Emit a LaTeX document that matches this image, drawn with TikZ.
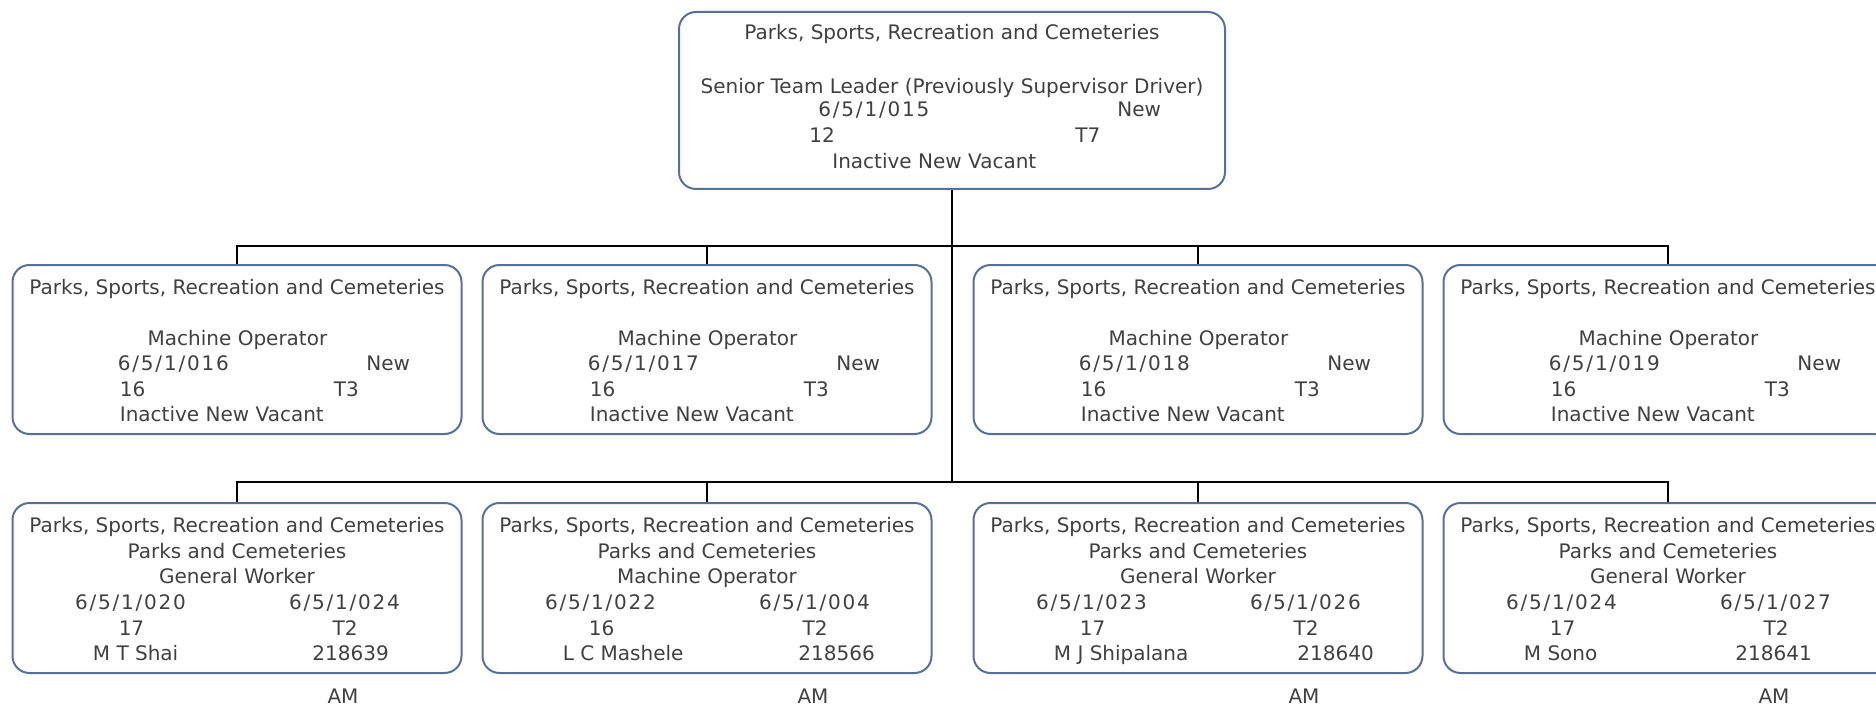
\documentclass[tikz,border=0pt]{standalone}
\usepackage{fontspec}
\setmainfont{DejaVu Sans}
\newfontfamily\idfont{DejaVu Sans}[LetterSpace=9]
\definecolor{boxc}{RGB}{88,112,152}
\definecolor{txtc}{RGB}{64,64,64}
\tikzset{
  box/.style={draw=boxc, line width=1pt, rounded corners=8.5pt, minimum width=224.5pt, minimum height=84.5pt, inner sep=0pt},
  txt/.style={text=txtc, inner sep=0pt, font=\fontsize{10}{12}\selectfont},
  idtxt/.style={txt, font=\fontsize{10}{12}\idfont},
  link/.style={draw=black, line width=1pt}
}
\newcommand\MidUnit[3]{%
  \node[box] (#1) at (#2,349.5) {};
  \node[txt,anchor=base] (#1-a) at (#2,294) {Parks, Sports, Recreation and Cemeteries};
  \node[txt,anchor=base] (#1-b) at ({#2+0.5},345) {Machine Operator};
  \node[idtxt,anchor=base west] (#1-c) at ({#2-119.5},370) {#3};
  \node[txt,anchor=base east] (#1-d) at ({#2+173.5},370) {New};
  \node[txt,anchor=base west] (#1-e) at ({#2-117.5},396) {16};
  \node[txt,anchor=base west] (#1-f) at ({#2+96.5},396) {T3};
  \node[txt,anchor=base west] (#1-g) at ({#2-117.5},421) {Inactive New Vacant};
}
\newcommand\BotUnit[9]{%
  \node[box, minimum height=85pt] (#1) at (#2,588) {};
  \node[txt,anchor=base] (#1-a) at (#2,532) {Parks, Sports, Recreation and Cemeteries};
  \node[txt,anchor=base] (#1-b) at (#2,558) {Parks and Cemeteries};
  \node[txt,anchor=base] (#1-c) at (#2,583) {#3};
  \node[idtxt,anchor=base] (#1-d) at ({#2-106.5},609) {#4};
  \node[idtxt,anchor=base] (#1-e) at ({#2+107.5},609) {#5};
  \node[txt,anchor=base] (#1-f) at ({#2-105.5},635) {#6};
  \node[txt,anchor=base] (#1-g) at ({#2+108},635) {T2};
  \node[txt,anchor=base west] (#1-h) at ({#2-144.5},660) {#7};
  \node[txt,anchor=base west] (#1-i) at ({#2+#9},660) {#8};
  \node[txt,anchor=base] (#1-am) at ({#2+106},703) {AM};
}
\begin{document}
\begin{tikzpicture}[x=0.5pt,y=-0.5pt]
\useasboundingbox (0,0) rectangle (1876,706);
% top
\node[box, minimum width=273pt, minimum height=88.5pt] (top) at (952,100.5) {};
\node[txt,anchor=base] (top-a) at (952,40) {Parks, Sports, Recreation and Cemeteries};
\node[txt,anchor=base] (top-b) at (952,94) {Senior Team Leader (Previously Supervisor Driver)};
\node[idtxt,anchor=base west] (top-c) at (818,117) {6/5/1/015};
\node[txt,anchor=base west] (top-d) at (1117,117) {New};
\node[txt,anchor=base west] (top-e) at (809,143) {12};
\node[txt,anchor=base west] (top-f) at (1075,143) {T7};
\node[txt,anchor=base west] (top-g) at (832,169) {Inactive New Vacant};
% middle row
\MidUnit{m1}{237}{6/5/1/016}
\MidUnit{m2}{707}{6/5/1/017}
\MidUnit{m3}{1198}{6/5/1/018}
\MidUnit{m4}{1668}{6/5/1/019}
% bottom row
\BotUnit{b1}{237}{General Worker}{6/5/1/020}{6/5/1/024}{17}{M T Shai}{218639}{75}
\BotUnit{b2}{707}{Machine Operator}{6/5/1/022}{6/5/1/004}{16}{L C Mashele}{218566}{91}
\BotUnit{b3}{1198}{General Worker}{6/5/1/023}{6/5/1/026}{17}{M J Shipalana}{218640}{99}
\BotUnit{b4}{1668}{General Worker}{6/5/1/024}{6/5/1/027}{17}{M Sono}{218641}{67}
% connectors
\coordinate (j1) at (952,246);
\coordinate (j2) at (952,482);
\draw[link] (top.south) -- (j1);
\foreach \n in {m1,m2,m3,m4} \draw[link] (j1) -| (\n.north);
\draw[link] (j1) -- (j2);
\foreach \n in {b1,b2,b3,b4} \draw[link] (j2) -| (\n.north);
\end{tikzpicture}
\end{document}
